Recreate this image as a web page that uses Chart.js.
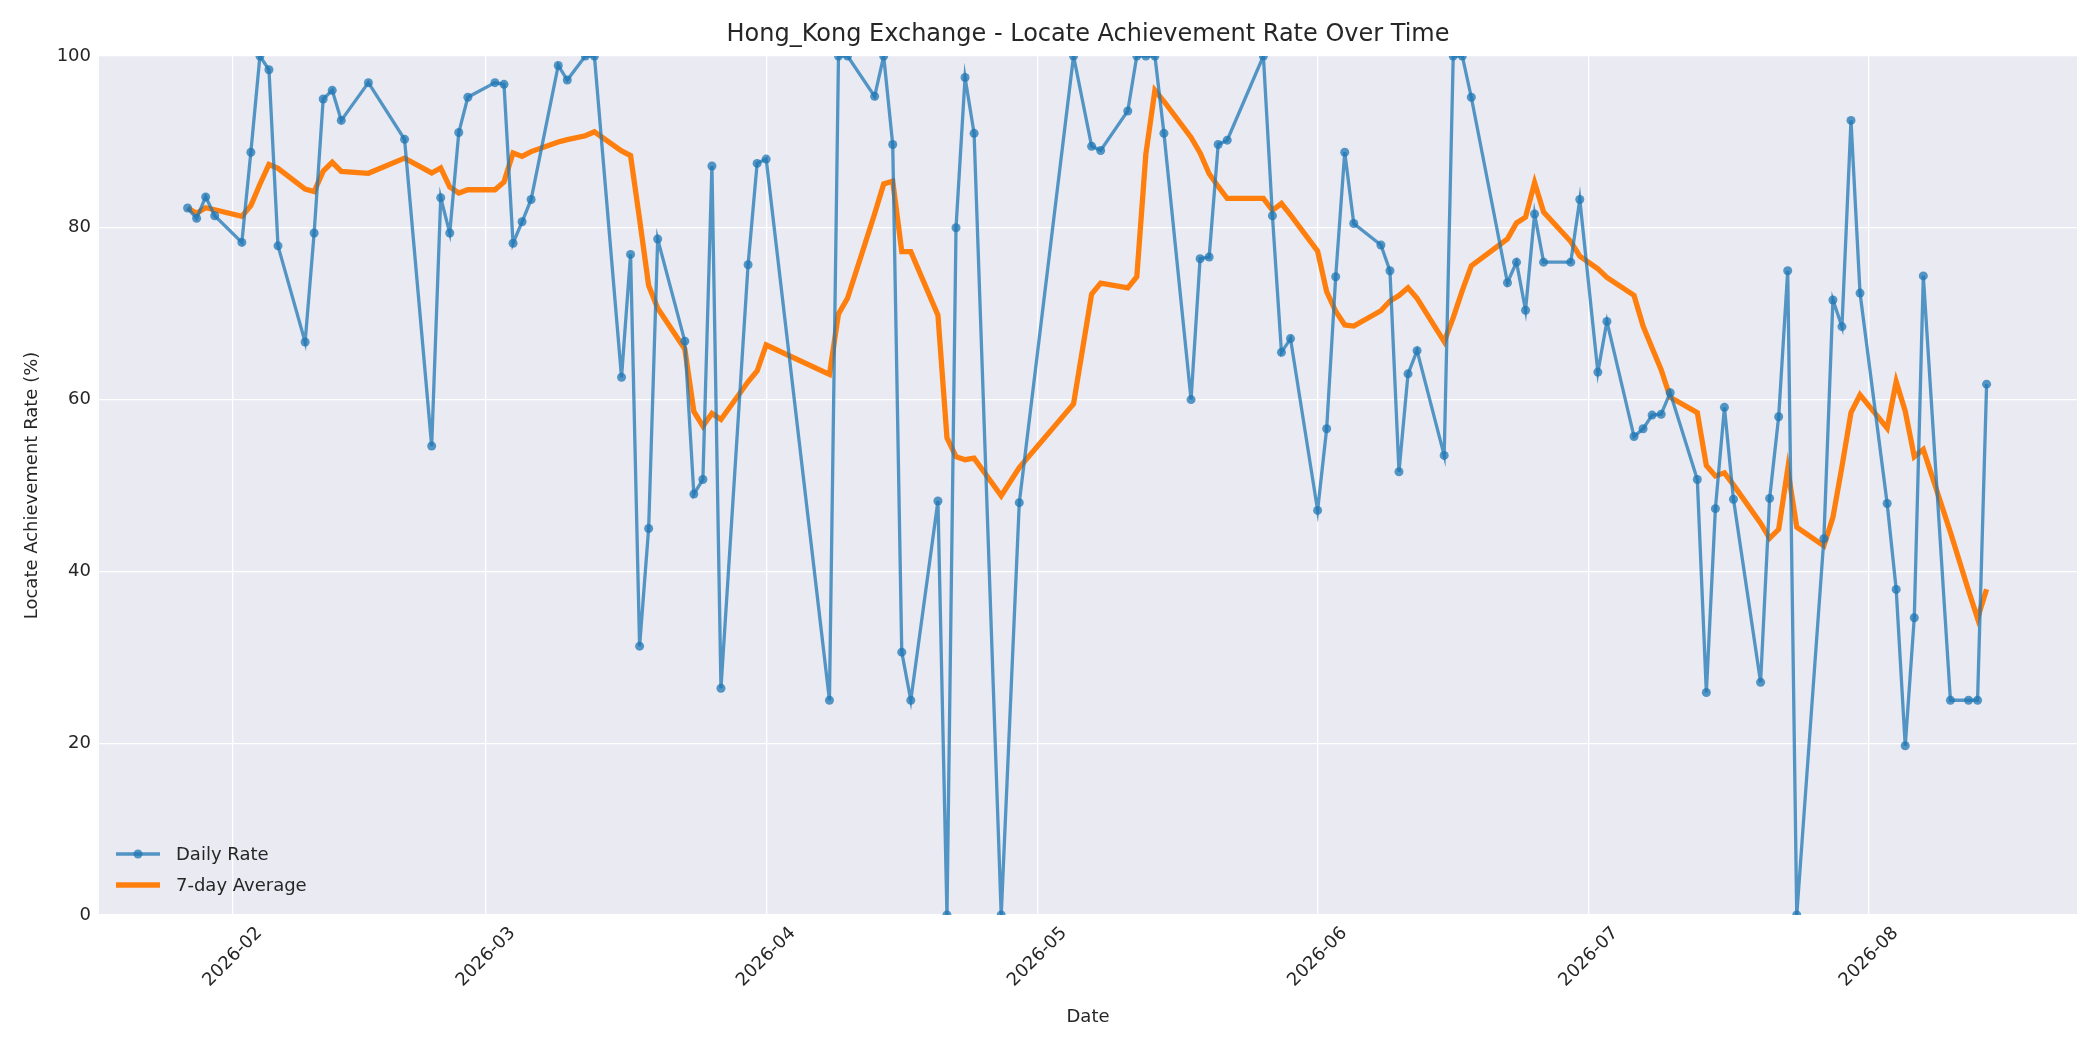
<!DOCTYPE html>
<html><head><meta charset="utf-8">
<script src="https://cdn.jsdelivr.net/npm/chart.js@4"></script>
<style>body{margin:0;background:#fff}canvas{display:block}</style>
</head><body>
<canvas id="c" width="2100" height="1050"></canvas>
<script>
// day-of-year 2026 (Jan 1 = 1)
const days = [27,28,29,30,33,34,35,36,37,40,41,42,43,44,47,51,54,55,56,57,58,61,62,63,64,65,68,69,71,72,75,76,77,78,79,82,83,84,85,86,89,90,91,98,99,100,103,104,105,106,107,110,111,112,113,114,117,119,125,127,128,131,132,133,134,135,138,139,140,141,142,146,147,148,149,152,153,154,155,156,159,160,161,162,163,166,167,168,169,173,174,175,176,177,180,181,183,184,187,188,189,190,191,194,195,196,197,198,201,202,203,204,205,208,209,210,211,212,215,216,217,218,219,222,224,225,226];
const dailyRate = [82.3,81.1,83.6,81.4,78.3,88.8,100,98.4,77.9,66.7,79.4,95,96,92.5,96.9,90.3,54.6,83.5,79.4,91.1,95.2,96.9,96.7,78.2,80.7,83.3,98.9,97.2,100,100,62.6,76.9,31.3,45,78.7,66.8,49,50.7,87.2,26.4,75.7,87.5,88,25,100,100,95.3,100,89.7,30.6,25,48.2,0,80,97.5,91,0,48,100,89.5,89,93.6,100,100,100,91,60,76.4,76.6,89.7,90.2,100,81.4,65.5,67.1,47.1,56.6,74.3,88.8,80.5,78,75,51.6,63,65.7,53.5,100,100,95.2,73.6,76,70.4,81.6,76,76,83.3,63.2,69.1,55.7,56.6,58.2,58.3,60.8,50.7,25.9,47.3,59.1,48.4,27.1,48.5,58,75,0,43.8,71.6,68.5,92.5,72.4,47.9,37.9,19.7,34.6,74.4,25,25,25,61.8];
const monthTicks = [32,60,91,121,152,182,213];
const monthLabels = ['2026-02','2026-03','2026-04','2026-05','2026-06','2026-07','2026-08'];
const yTicks = [0,20,40,60,80,100];

const avg7 = dailyRate.map((v,i)=>{const s=dailyRate.slice(Math.max(0,i-6),i+1);return s.reduce((a,b)=>a+b,0)/s.length;});
const FONT='"DejaVu Sans", sans-serif';

const bg={id:'bg',beforeDraw(ch){const a=ch.chartArea,c=ch.ctx;c.save();c.fillStyle='#fff';c.fillRect(0,0,ch.width,ch.height);c.fillStyle='#EAEAF2';c.fillRect(a.left,a.top,a.right-a.left,a.bottom-a.top);c.restore();},
afterDraw(ch){const c=ch.ctx,a=ch.chartArea;c.save();
c.fillStyle='#262626';c.font='24px '+FONT;c.textAlign='center';c.textBaseline='middle';
c.fillText('Hong_Kong Exchange - Locate Achievement Rate Over Time',(a.left+a.right)/2,35);
// rotated x tick labels, centered on tick
const xs=ch.scales.x;c.font='18px '+FONT;
monthTicks.forEach((v,i)=>{const px=xs.getPixelForValue(v);c.save();c.translate(px,a.bottom+42);c.rotate(-Math.PI/4);c.textAlign='center';c.textBaseline='middle';c.fillText(monthLabels[i],0,0);c.restore();});
const items=[['Daily Rate','rgba(31,119,180,0.75)',3.3,true],['7-day Average','#ff7f0e',5.3,false]];
items.forEach((it,i)=>{const y=a.bottom-61+i*31;c.strokeStyle=it[1];c.lineWidth=it[2];c.beginPath();c.moveTo(a.left+17,y);c.lineTo(a.left+61,y);c.stroke();
if(it[3]){c.fillStyle=it[1];c.beginPath();c.arc(a.left+39,y,4.5,0,Math.PI*2);c.fill();}
c.fillStyle='#262626';c.font='18px '+FONT;c.textAlign='left';c.fillText(it[0],a.left+77,y+1);});
c.restore();}};

new Chart(document.getElementById('c'),{
type:'line',
data:{datasets:[
{label:'Daily Rate',data:days.map((d,i)=>({x:d,y:dailyRate[i]})),borderColor:'rgba(31,119,180,0.75)',backgroundColor:'rgba(31,119,180,0.75)',borderWidth:3.3,pointRadius:4.5,pointBorderWidth:0,tension:0},
{label:'7-day Average',data:days.map((d,i)=>({x:d,y:avg7[i]})),borderColor:'#ff7f0e',borderWidth:5.3,pointRadius:0,tension:0}
]},
options:{responsive:false,devicePixelRatio:1,animation:false,
layout:{padding:{left:18,right:23,top:56,bottom:18}},
plugins:{legend:{display:false},tooltip:{enabled:false}},
scales:{
x:{type:'linear',min:17.2,max:236,
afterFit(s){s.height=117;},
afterBuildTicks(s){s.ticks=monthTicks.map(v=>({value:v}));},
ticks:{display:false},
grid:{color:'#ffffff',lineWidth:1.3,drawTicks:false},border:{display:false},
title:{display:true,text:'Date',color:'#262626',font:{size:18,family:FONT},padding:{top:4}}},
y:{min:0,max:100,
afterFit(s){s.width=81;},
afterBuildTicks(s){s.ticks=yTicks.map(v=>({value:v}));},
ticks:{color:'#262626',font:{size:18,family:FONT},padding:8},
grid:{color:'#ffffff',lineWidth:1.3,drawTicks:false},border:{display:false},
title:{display:true,text:'Locate Achievement Rate (%)',color:'#262626',font:{size:18,family:FONT},padding:{bottom:4}}}
}},
plugins:[bg]});
</script></body></html>
